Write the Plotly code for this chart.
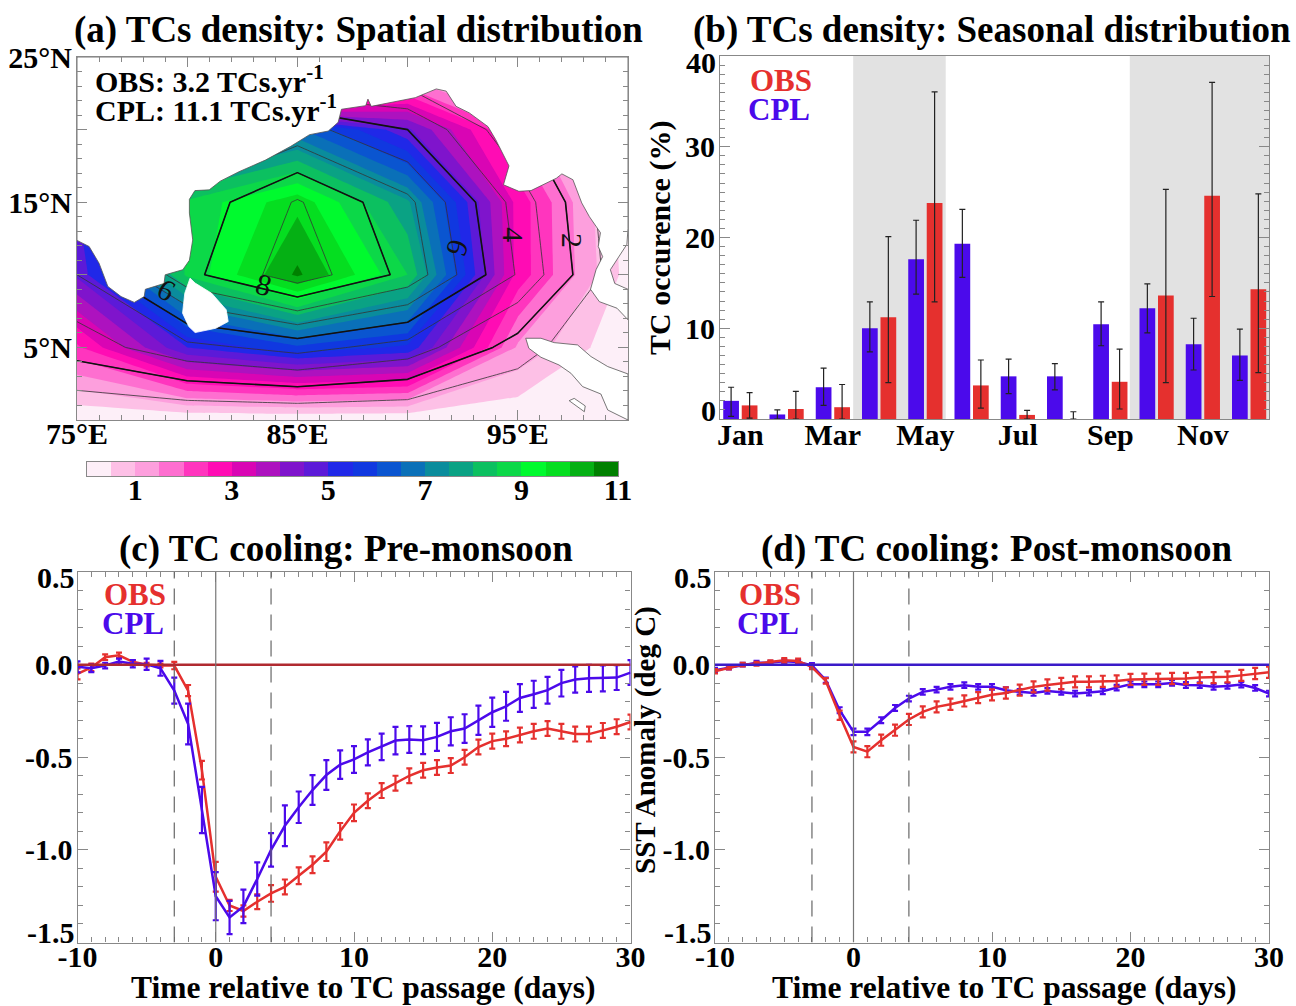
import plotly.graph_objects as go

W, H = 1296, 1006
FONT = "Liberation Serif"
RED = "#E5302E"
BLUE = "#4B0AEB"

# ---------- panel a: density field ----------
lons = [75, 80, 85, 90, 95, 100]
lats = [0, 5, 10, 15, 20, 25]
shade_z = [
    [0.0, 0.0, 0.0, 0.0, 0.07, -0.3],
    [2.4, 5.0, 5.9, 5.4, 1.42, 0.03],
    [4.6, 8.6, 10.6, 8.5, 2.8, 0.3],
    [5.0, 8.6, 9.85, 7.6, 2.8, 0.2],
    [4.0, 5.5, 6.6, 4.6, 1.8, 0.0],
    [1.0, -2.0, -6.0, 0.1, 0.0, 0.0],
]
line_z = [
    [0.0, 0.0, 0.0, 0.0, -0.3, -1.0],
    [2.45, 3.7, 4.36, 3.57, 1.54, -0.5],
    [4.0, 7.7, 9.6, 7.7, 3.9, 0.1],
    [5.0, 7.3, 9.1, 7.25, 3.6, -0.1],
    [4.0, 5.5, 6.4, 5.0, 2.2, -0.5],
    [0.0, 0.5, 1.0, 1.5, 0.0, -1.0],
]
band_colors = ["#FDEFF8", "#FDC0E6", "#FD9FDD", "#FE6FD0", "#FF35BE", "#FF0CB4",
               "#D905B4", "#AD12BF", "#7F14CC", "#5C1AD8", "#2028E8", "#1038E0",
               "#0A55D0", "#0A70B8", "#0A8C9C", "#0AA284", "#0CC060", "#0CD848",
               "#00FA2E", "#05DE20", "#05B014", "#008000"]
band_mids = [0.25, 0.75, 1.25, 1.75, 2.25, 2.75, 3.25, 3.75, 4.25, 4.75, 5.25, 5.75,
             6.25, 6.75, 7.25, 7.75, 8.25, 8.75, 9.25, 9.75, 10.25, 10.75]
bar_ticks = [1, 3, 5, 7, 9, 11]

land_lon = [75, 75.55, 76.0, 76.4, 77.0, 77.6, 78.05, 78.1, 78.95, 79.0, 79.8, 80.1, 80.25, 80.1, 80.1,
            80.35, 81.0, 81.5, 82.35, 83.55, 84.7, 85.55, 86.4, 86.85, 87.0, 88.1, 88.2, 88.35, 90.35,
            91.3, 91.75, 92.2, 92.8, 93.65, 94.0, 94.3, 94.6, 94.35, 95.05, 95.6, 96.75, 97.0, 97.5,
            97.9, 98.25, 98.75, 98.65, 98.85, 98.55, 98.3, 98.7, 99.5, 100, 100, 99.4, 99.2, 99.95,
            100, 100, 75, 75]
land_lat = [12.37, 11.95, 10.8, 9.2, 8.5, 8.1, 8.5, 9.0, 9.4, 10.0, 10.35, 11.0, 12.4, 14.25, 15.2,
            15.8, 15.85, 16.45, 17.1, 17.9, 18.85, 19.65, 19.9, 20.5, 21.4, 21.65, 22.1, 21.6, 22.2,
            22.8, 22.65, 21.6, 21.15, 20.2, 19.3, 18.4, 17.5, 16.2, 15.75, 15.8, 16.65, 16.95, 16.55,
            14.95, 14.0, 12.9, 11.95, 11.25, 10.35, 9.0, 8.15, 7.7, 6.9, 9.0, 9.4, 10.35, 12.1,
            13.2, 25, 25, 12.37]
lanka_lon = [80.13, 80.36, 81.11, 81.77, 81.86, 81.3, 80.36, 80.07, 79.79, 79.89, 80.13]
lanka_lat = [9.77, 9.43, 8.73, 7.59, 6.78, 6.32, 6.02, 6.44, 7.36, 8.73, 9.77]
sumatra_lon = [95.36, 96.05, 96.65, 97.71, 98.32, 99.08, 100, 100, 99.08, 98.77, 97.94, 97.41, 96.87, 96.05, 95.5, 95.36]
sumatra_lat = [5.63, 5.63, 5.33, 5.17, 4.37, 3.68, 3.17, 0.0, 0.69, 1.79, 2.3, 3.22, 3.79, 4.32, 4.94, 5.63]
nias_lon = [97.33, 97.56, 98.06, 98.02, 97.33]
nias_lat = [1.33, 1.49, 0.97, 0.57, 1.33]

# ---------- panel b: seasonal occurrence ----------
month_labels = ["Jan", "Mar", "May", "Jul", "Sep", "Nov"]
cpl_occ = [2.0, 0.5, 3.5, 10.0, 17.6, 19.3, 4.7, 4.7, 10.45, 12.2, 8.25, 7.0]
cpl_hi = [3.5, 1.0, 5.6, 12.9, 21.9, 23.1, 6.6, 6.1, 12.9, 14.9, 11.1, 9.9]
cpl_lo = [0.3, 0.0, 1.5, 7.4, 13.75, 15.6, 2.8, 3.2, 8.07, 9.5, 5.4, 4.25]
obs_occ = [1.5, 1.1, 1.3, 11.2, 23.8, 3.7, 0.45, 0.0, 4.1, 13.6, 24.6, 14.3]
obs_hi = [2.9, 3.05, 3.8, 20.1, 36.05, 6.5, 0.95, 0.8, 7.7, 25.3, 37.1, 24.8]
obs_lo = [0.1, 0.0, 0.0, 4.0, 12.9, 1.2, 0.0, 0.0, 1.1, 4.0, 13.5, 5.1]
occ_ticks = [10, 20, 30]

# ---------- panels c, d: SST anomaly composites ----------
days = list(range(-10, 31))
c_obs = [-.05, -.015, .04, .05, .015, 0, -.005, -.005, -.14, -.57, -1.145, -1.30, -1.33, -1.28, -1.235, -1.2,
         -1.14, -1.08, -1.01, -.9, -.8, -.735, -.68, -.64, -.6, -.57, -.555, -.545, -.5, -.445, -.413, -.4,
         -.38, -.36, -.345, -.36, -.375, -.375, -.355, -.335, -.31]
c_obs_err = [.03, .02, .015, .015, .01, .01, .01, .02, .03, .05, .08, .03, .03, .04, .045, .04,
             .045, .045, .05, .045, .045, .04, .04, .04, .04, .04, .04, .04, .04, .04, .04, .04,
             .04, .04, .04, .04, .04, .04, .04, .04, .04]
c_cpl = [-.012, -.02, -.005, .017, .005, .002, -.02, -.14, -.32, -.785, -1.25, -1.365, -1.305, -1.157, -1.0, -.87,
         -.77, -.677, -.596, -.54, -.512, -.474, -.444, -.41, -.404, -.408, -.39, -.36, -.345, -.3, -.257, -.225,
         -.18, -.16, -.138, -.1, -.08, -.074, -.074, -.07, -.043]
c_cpl_err = [.03, .02, .015, .015, .02, .03, .04, .07, .11, .125, .13, .09, .09, .09, .09, .11,
             .085, .08, .08, .077, .072, .07, .072, .074, .072, .075, .076, .076, .077, .079, .079, .078,
             .075, .073, .072, .072, .071, .073, .07, .067, .067]
d_obs = [-.036, -.016, 0, .005, .013, .023, .02, -.013, -.088, -.273, -.444, -.47, -.408, -.354, -.296, -.255,
         -.228, -.214, -.196, -.178, -.163, -.153, -.138, -.12, -.11, -.102, -.093, -.093, -.09, -.088, -.08, -.079,
         -.079, -.075, -.075, -.07, -.07, -.066, -.058, -.048, -.041]
d_obs_err = [.012, .01, .01, .01, .01, .012, .012, .012, .015, .025, .03, .03, .03, .03, .03, .03,
             .03, .03, .03, .03, .03, .03, .03, .03, .03, .03, .03, .03, .03, .03, .03, .03,
             .03, .03, .03, .03, .03, .03, .03, .03, .03]
d_cpl = [-.03, -.016, 0, .01, .011, .018, .014, -.004, -.084, -.246, -.363, -.363, -.30, -.234, -.183, -.147,
         -.135, -.12, -.111, -.12, -.12, -.138, -.147, -.153, -.142, -.147, -.156, -.151, -.144, -.124, -.106, -.106,
         -.106, -.099, -.11, -.111, -.12, -.115, -.108, -.126, -.156]
d_cpl_err = [.012, .01, .01, .01, .01, .01, .01, .012, .014, .016, .018, .018, .016, .016, .015, .015,
             .015, .015, .015, .015, .015, .015, .015, .015, .015, .015, .015, .015, .015, .015, .015, .015,
             .015, .015, .015, .015, .015, .015, .015, .015, .015]
sst_ticks = [0.0, -0.5, -1.0]
sst_labels = ["0.0", "-0.5", "-1.0"]
day_ticks = [-10, 0, 10, 20, 30]
day_labels = ["-10", "0", "10", "20", "30"]

GRAY = "#888888"
TICKSIZE = 30


def fx(px):
    return px / W


def fy(py):
    return 1 - py / H


def axis(px0, px1, side, **kw):
    dom = [fx(px0), fx(px1)] if side == "x" else [fy(px1), fy(px0)]
    base = dict(domain=dom, showgrid=False, zeroline=False, showline=True, linecolor=GRAY, linewidth=1.2,
                ticks="inside", tickcolor=GRAY, ticklen=10, tickwidth=1, mirror="ticks",
                ticklabelstandoff=-13 if side == "x" else -2,
                tickfont=dict(family=FONT, size=TICKSIZE, color="black", weight="bold"))
    base.update(kw)
    return base


def minor(step):
    return dict(dtick=step, ticks="inside", ticklen=5, tickcolor=GRAY, tickwidth=1)


fig = go.Figure()

# panel a
scale = []
n = len(band_colors)
for i, c in enumerate(band_colors):
    scale += [[i / n, c], [(i + 1) / n, c]]
fig.add_trace(go.Contour(
    x=lons, y=lats, z=shade_z, xaxis="x", yaxis="y", autocontour=False, showscale=False,
    contours=dict(start=0, end=11, size=0.5, coloring="fill", showlines=False),
    line=dict(width=0, smoothing=0), colorscale=scale, zmin=0, zmax=11, hoverinfo="skip"))
fig.add_trace(go.Contour(
    x=lons, y=lats, z=line_z, xaxis="x", yaxis="y", autocontour=False, showscale=False,
    contours=dict(start=1, end=9, size=1, coloring="none"),
    line=dict(width=0.8, color="#333333", smoothing=0), hoverinfo="skip"))
fig.add_trace(go.Contour(
    x=lons, y=lats, z=line_z, xaxis="x", yaxis="y", autocontour=False, showscale=False,
    contours=dict(start=2, end=8, size=3, coloring="none"),
    line=dict(width=1.6, color="#111111", smoothing=0), hoverinfo="skip"))
for lo, la, lc in [(land_lon, land_lat, "#555555"), (lanka_lon, lanka_lat, "white"),
                   (sumatra_lon, sumatra_lat, "#555555"), (nias_lon, nias_lat, "#555555")]:
    fig.add_trace(go.Scatter(x=lo, y=la, xaxis="x", yaxis="y", mode="lines", fill="toself", fillcolor="white",
                             line=dict(color=lc, width=0.8), showlegend=False, hoverinfo="skip"))

# colour bar of panel a
fig.add_trace(go.Heatmap(x=band_mids, y=[0], z=[band_mids], xaxis="x5", yaxis="y5", colorscale=scale, zmin=0, zmax=11,
                         showscale=False, hoverinfo="skip"))

# panel b
fig.add_trace(go.Bar(x=list(range(12)), y=cpl_occ, xaxis="x2", yaxis="y2", marker=dict(color=BLUE, line=dict(width=0)),
                     error_y=dict(type="data", symmetric=False, array=[h - v for h, v in zip(cpl_hi, cpl_occ)],
                                  arrayminus=[v - l for v, l in zip(cpl_occ, cpl_lo)],
                                  color="#222222", thickness=1.2, width=3), showlegend=False))
fig.add_trace(go.Bar(x=list(range(12)), y=obs_occ, xaxis="x2", yaxis="y2", marker=dict(color=RED, line=dict(width=0)),
                     error_y=dict(type="data", symmetric=False, array=[h - v for h, v in zip(obs_hi, obs_occ)],
                                  arrayminus=[v - l for v, l in zip(obs_occ, obs_lo)],
                                  color="#222222", thickness=1.2, width=3), showlegend=False))

# panels c, d
for xa, ya, ob, obe, cp, cpe in [("x3", "y3", c_obs, c_obs_err, c_cpl, c_cpl_err),
                                 ("x4", "y4", d_obs, d_obs_err, d_cpl, d_cpl_err)]:
    for vals, errs, col in [(ob, obe, RED), (cp, cpe, BLUE)] if xa == "x3" else [(cp, cpe, BLUE), (ob, obe, RED)]:
        fig.add_trace(go.Scatter(x=days, y=vals, xaxis=xa, yaxis=ya, mode="lines", line=dict(color=col, width=2.5),
                                 error_y=dict(type="data", array=errs, color=col, thickness=2.2, width=3),
                                 showlegend=False))

shapes = []
for x0, x1 in [(2.44, 4.44), (8.42, 11.43)]:
    shapes.append(dict(type="rect", xref="x2", yref="y2", x0=x0, x1=x1, y0=0, y1=40, fillcolor="#E2E2E2",
                       line=dict(width=0), layer="below"))
for xr, yr, zc in [("x3", "y3", "#B02A30"), ("x4", "y4", "#3A1AC8")]:
    shapes.append(dict(type="line", xref=xr, yref=yr, x0=-10, x1=30, y0=0, y1=0, line=dict(color=zc, width=2.5)))
    shapes.append(dict(type="line", xref=xr, yref=yr, x0=0, x1=0, y0=-1.5, y1=0.5, line=dict(color="#777777", width=1.2)))
    for d in (-3, 4):
        shapes.append(dict(type="line", xref=xr, yref=yr, x0=d, x1=d, y0=-1.5, y1=0.5,
                           line=dict(color="#666666", width=1.2, dash="16px,10px")))

fig.update_layout(
    width=W, height=H, margin=dict(l=0, r=0, t=0, b=0, autoexpand=False), paper_bgcolor="white", plot_bgcolor="white",
    showlegend=False, barmode="group", bargap=0.2, bargroupgap=0.15, shapes=shapes,
    xaxis=axis(77, 628, "x", anchor="y", range=[75, 100], tick0=75, dtick=5, ticklabelstep=2, ticksuffix="°E",
               minor=minor(1)),
    yaxis=axis(57, 420, "y", anchor="x", range=[0, 25], tick0=5, dtick=5, ticklabelstep=2, ticksuffix="°N",
               minor=minor(1)),
    xaxis2=axis(720, 1269, "x", anchor="y2", range=[-0.44, 11.43], ticks="", mirror=True, tickvals=[0, 2, 4, 6, 8, 10],
                ticktext=month_labels, ticklabelstandoff=-11),
    yaxis2=axis(56, 419, "y", anchor="x2", range=[0, 40], tickvals=occ_ticks, minor=minor(1)),
    xaxis3=axis(77.5, 630.5, "x", anchor="y3", range=[-10, 30], tickvals=day_ticks, ticktext=day_labels, minor=minor(1)),
    yaxis3=axis(572, 942.5, "y", anchor="x3", range=[-1.5, 0.5], tickvals=sst_ticks, ticktext=sst_labels, minor=minor(0.1)),
    xaxis4=axis(715, 1269, "x", anchor="y4", range=[-10, 30], tickvals=day_ticks, ticktext=day_labels, minor=minor(1)),
    yaxis4=axis(572, 942.5, "y", anchor="x4", range=[-1.5, 0.5], tickvals=sst_ticks, ticktext=sst_labels, minor=minor(0.1)),
    xaxis5=axis(87, 618, "x", anchor="y5", range=[0, 11], ticks="", mirror=True, tickvals=bar_ticks, ticklabelstandoff=-13),
    yaxis5=axis(462, 476, "y", anchor="x5", range=[-0.5, 0.5], ticks="", mirror=True, showticklabels=False),
)


def label(txt, px, py, size, color="black", anchor="center", angle=0):
    fig.add_annotation(text=txt, x=fx(px), y=fy(py), xref="paper", yref="paper", showarrow=False, xanchor=anchor,
                       yanchor="middle", textangle=angle, xshift=0, borderpad=0,
                       font=dict(family=FONT, size=size, color=color, weight="bold"))


label("(a) TCs density: Spatial distribution", 358, 30, 37)
label("(b) TCs density: Seasonal distribution", 992, 30, 37)
label("(c) TC cooling: Pre-monsoon", 346, 549, 37)
label("(d) TC cooling: Post-monsoon", 997, 549, 37)
label("Time relative to TC passage (days)", 363, 987, 31.5)
label("Time relative to TC passage (days)", 1005, 987, 31.5)
label("TC occurence (%)", 660, 238, 30, angle=-90)
label("SST Anomaly (deg C)", 645, 740, 29, angle=-90)
label("OBS: 3.2 TCs.yr<sup>-1</sup>", 94, 79, 30, anchor="left")
label("CPL: 11.1 TCs.yr<sup>-1</sup>", 94, 108, 30, anchor="left")
for ox, cx, y0 in [(781, 779, 81), (135, 133, 594), (770, 768, 594)]:
    label("OBS", ox, y0, 31, RED)
    label("CPL", cx, y0 + 29, 31, BLUE)
# end-of-axis tick labels sit inward of their ticks so they clear the neighbouring axis labels
for txt, rx, py in [("40", 717, 62), ("0", 717, 410), ("0.5", 76, 577), ("-1.5", 76, 932), ("0.5", 713, 577), ("-1.5", 713, 932)]:
    label(txt, rx, py, TICKSIZE, anchor="right")

for txt, lon, lat, ang in [("2", 97.45, 12.34, 90), ("4", 94.8, 12.76, 90), ("6", 92.27, 11.86, 110),
                           ("6", 79.05, 8.97, 30), ("8", 83.45, 9.3, 15)]:
    fig.add_annotation(text=txt, x=lon, y=lat, xref="x", yref="y", showarrow=False, textangle=ang,
                       font=dict(family=FONT, size=30, color="#111111"))

fig.write_html("out.html", config=dict(displayModeBar=False), post_script="document.body.style.margin='0';")
